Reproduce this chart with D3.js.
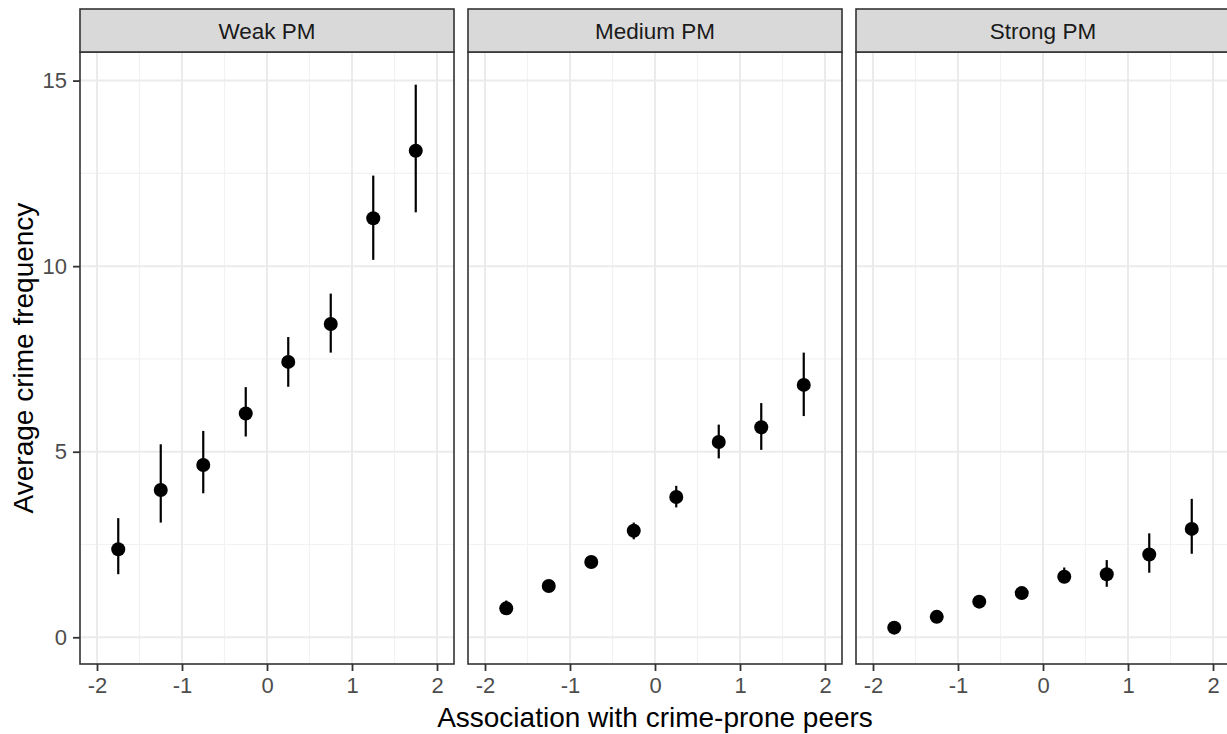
<!DOCTYPE html>
<html>
<head>
<meta charset="utf-8">
<script src="https://cdn.jsdelivr.net/npm/d3@7"></script>
<style>
  body { margin: 0; background: #fff; }
  svg { display: block; font-family: "Liberation Sans", Arial, sans-serif; }
</style>
</head>
<body>
<svg></svg>
<script>
const width = 1227;
const height = 734;

// data
const panels = ["Weak PM", "Medium PM", "Strong PM"];
const xVals = [-1.75, -1.25, -0.75, -0.25, 0.25, 0.75, 1.25, 1.75];

const weakMean = [2.37, 3.97, 4.64, 6.03, 7.42, 8.44, 11.29, 13.11];
const weakLo = [1.70, 3.09, 3.88, 5.41, 6.75, 7.67, 10.17, 11.45];
const weakHi = [3.21, 5.20, 5.56, 6.74, 8.09, 9.26, 12.44, 14.89];

const mediumMean = [0.78, 1.38, 2.03, 2.87, 3.78, 5.26, 5.66, 6.80];
const mediumLo = [0.62, 1.25, 1.90, 2.64, 3.50, 4.82, 5.05, 5.96];
const mediumHi = [0.99, 1.52, 2.16, 3.09, 4.08, 5.73, 6.31, 7.67];

const strongMean = [0.26, 0.55, 0.96, 1.19, 1.63, 1.70, 2.23, 2.92];
const strongLo = [0.16, 0.45, 0.85, 1.08, 1.46, 1.36, 1.74, 2.25];
const strongHi = [0.36, 0.65, 1.07, 1.30, 1.88, 2.08, 2.80, 3.73];

const xTicks = [-2, -1, 0, 1, 2];
const xMinor = [-1.5, -0.5, 0.5, 1.5];
const yTicks = [0, 5, 10, 15];
const yMinor = [2.5, 7.5, 12.5];

const series = [
  { mean: weakMean, lo: weakLo, hi: weakHi },
  { mean: mediumMean, lo: mediumLo, hi: mediumHi },
  { mean: strongMean, lo: strongLo, hi: strongHi },
];

const panelW = 374;
const gap = 14;
const left0 = 80;
const stripTop = 9;
const panelTop = 52;
const panelBottom = 664;

const svg = d3.select("svg").attr("width", width).attr("height", height);

const x = d3.scaleLinear().domain([-2.2, 2.2]).range([0, panelW]);
const y = d3.scaleLinear().domain([-0.72, 15.77]).range([panelBottom, panelTop]);

panels.forEach((name, p) => {
  const g = svg.append("g").attr("transform", `translate(${left0 + p * (panelW + gap)},0)`);
  const s = series[p];
  const pts = xVals.map((v, i) => ({ x: v, m: s.mean[i], lo: s.lo[i], hi: s.hi[i] }));

  // grid
  g.selectAll(".yminor").data(yMinor).join("line")
    .attr("x1", 0).attr("x2", panelW)
    .attr("y1", d => y(d)).attr("y2", d => y(d))
    .attr("stroke", "#f2f2f2").attr("stroke-width", 1.2);
  g.selectAll(".xminor").data(xMinor).join("line")
    .attr("x1", d => x(d)).attr("x2", d => x(d))
    .attr("y1", panelTop).attr("y2", panelBottom)
    .attr("stroke", "#f2f2f2").attr("stroke-width", 1.2);
  g.selectAll(".ymajor").data(yTicks).join("line")
    .attr("x1", 0).attr("x2", panelW)
    .attr("y1", d => y(d)).attr("y2", d => y(d))
    .attr("stroke", "#ebebeb").attr("stroke-width", 2);
  g.selectAll(".xmajor").data(xTicks).join("line")
    .attr("x1", d => x(d)).attr("x2", d => x(d))
    .attr("y1", panelTop).attr("y2", panelBottom)
    .attr("stroke", "#ebebeb").attr("stroke-width", 2);

  // error bars + points
  g.selectAll(".err").data(pts).join("line")
    .attr("x1", d => x(d.x)).attr("x2", d => x(d.x))
    .attr("y1", d => y(d.lo)).attr("y2", d => y(d.hi))
    .attr("stroke", "#000").attr("stroke-width", 2.2);
  g.selectAll(".pt").data(pts).join("circle")
    .attr("cx", d => x(d.x)).attr("cy", d => y(d.m))
    .attr("r", 7).attr("fill", "#000");

  // panel border
  g.append("rect")
    .attr("x", 0).attr("y", panelTop)
    .attr("width", panelW).attr("height", panelBottom - panelTop)
    .attr("fill", "none").attr("stroke", "#333").attr("stroke-width", 1.6);

  // strip
  g.append("rect")
    .attr("x", 0).attr("y", stripTop)
    .attr("width", panelW).attr("height", panelTop - stripTop)
    .attr("fill", "#d9d9d9").attr("stroke", "#333").attr("stroke-width", 1.6);
  g.append("text")
    .attr("x", panelW / 2).attr("y", (stripTop + panelTop) / 2)
    .attr("dy", "0.36em").attr("text-anchor", "middle")
    .attr("font-size", 22.5).attr("fill", "#1a1a1a")
    .text(name);

  // x axis
  const xa = g.append("g").attr("transform", `translate(0,${panelBottom})`)
    .call(d3.axisBottom(x).tickValues(xTicks).tickSize(7).tickPadding(6).tickFormat(d3.format("d")));
  xa.select(".domain").remove();
  xa.selectAll("line").attr("stroke", "#333").attr("stroke-width", 1.8);
  xa.selectAll("text").attr("font-size", 22).attr("fill", "#4d4d4d")
    .attr("font-family", "Liberation Sans, Arial, sans-serif")
    .text(d => d < 0 ? "-" + Math.abs(d) : d);

  if (p === 0) {
    const ya = g.append("g")
      .call(d3.axisLeft(y).tickValues(yTicks).tickSize(7).tickPadding(6));
    ya.select(".domain").remove();
    ya.selectAll("line").attr("stroke", "#333").attr("stroke-width", 1.8);
    ya.selectAll("text").attr("font-size", 22).attr("fill", "#4d4d4d")
      .attr("font-family", "Liberation Sans, Arial, sans-serif");
  }
});

// axis titles
svg.append("text")
  .attr("x", left0 + (3 * panelW + 2 * gap) / 2).attr("y", 727)
  .attr("text-anchor", "middle").attr("font-size", 28).attr("fill", "#000")
  .text("Association with crime-prone peers");

svg.append("text")
  .attr("transform", `translate(33,${(panelTop + panelBottom) / 2}) rotate(-90)`)
  .attr("text-anchor", "middle").attr("font-size", 28).attr("fill", "#000")
  .text("Average crime frequency");
</script>
</body>
</html>
